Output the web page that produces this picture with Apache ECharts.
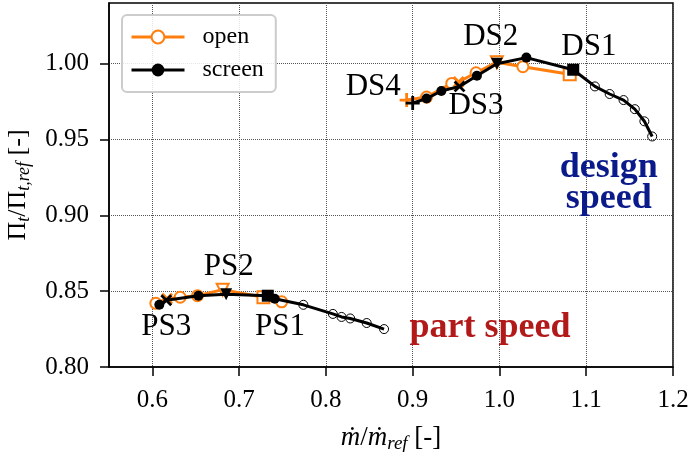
<!DOCTYPE html>
<html>
<head>
<meta charset="utf-8">
<script src="https://cdn.jsdelivr.net/npm/echarts@6/dist/echarts.min.js"></script>
<style>html,body{margin:0;padding:0;background:#fff}#c{width:691px;height:452px}</style>
</head>
<body>
<div id="c"></div>
<script>
// ---- data ----
const xTicks = [0.6, 0.7, 0.8, 0.9, 1.0, 1.1, 1.2];
const yTicks = [0.80, 0.85, 0.90, 0.95, 1.00];

const openDesignX = [0.893, 0.916, 0.945, 0.953, 0.973, 0.997, 1.027, 1.081];
const openDesignY = [0.976, 0.978, 0.987, 0.988, 0.994, 1.001, 0.998, 0.993];
const openDesignSym = ['plus', 'circle', 'circle', 'cross', 'circle', 'tri', 'circle', 'square'];

const openPartX = [0.604, 0.617, 0.632, 0.652, 0.681, 0.728, 0.749];
const openPartY = [0.842, 0.845, 0.846, 0.847, 0.851, 0.846, 0.843];
const openPartSym = ['circle', 'cross', 'circle', 'circle', 'tri', 'square', 'circle'];

const screenDesignX = [0.900, 0.916, 0.933, 0.954, 0.974, 0.997, 1.031, 1.085, 1.110, 1.127, 1.143, 1.156, 1.167, 1.176];
const screenDesignY = [0.974, 0.977, 0.982, 0.985, 0.992, 1.000, 1.004, 0.996, 0.985, 0.980, 0.976, 0.970, 0.962, 0.952];
const screenDesignSym = ['plus', 'circle', 'circle', 'cross', 'circle', 'tri', 'circle', 'square', 'ext', 'ext', 'ext', 'ext', 'ext', 'ext'];

const screenPartX = [0.608, 0.616, 0.653, 0.685, 0.733, 0.741, 0.774, 0.808, 0.818, 0.828, 0.847, 0.867];
const screenPartY = [0.841, 0.844, 0.847, 0.848, 0.847, 0.845, 0.841, 0.835, 0.833, 0.832, 0.829, 0.825];
const screenPartSym = ['circle', 'cross', 'circle', 'tri', 'square', 'circle', 'ext', 'ext', 'ext', 'ext', 'ext', 'ext'];

const pointLabels = ['DS1', 'DS2', 'DS3', 'DS4', 'PS1', 'PS2', 'PS3'];
const pointLabelX = [1.103, 0.990, 0.973, 0.8545, 0.747, 0.688, 0.616];
const pointLabelY = [1.0108, 1.018, 0.9725, 0.985, 0.8265, 0.866, 0.8265];

const speedLabels = ['design\nspeed', 'part speed'];
const speedLabelX = [1.126, 0.989];
const speedLabelY = [0.9213, 0.8256];

// ---- styling ----
const ORANGE = '#ff7f0e';
const FONT = 'Liberation Serif';
const PLUS = 'path://M-1,-5H1V-1H5V1H1V5H-1V1H-5V-1H-1Z';

function itemFor(kind, color, hollow) {
  const fill = hollow ? '#fff' : color;
  switch (kind) {
    case 'plus': return { symbol: PLUS, symbolSize: 14, itemStyle: { color: color, borderWidth: 0 } };
    case 'cross': return { symbol: PLUS, symbolSize: 14, symbolRotate: 45, itemStyle: { color: color, borderWidth: 0 } };
    case 'tri': return { symbol: 'triangle', symbolRotate: 180, symbolSize: 12, itemStyle: { color: fill, borderColor: color, borderWidth: hollow ? 2 : 0 } };
    case 'square': return { symbol: 'rect', symbolSize: 12, itemStyle: { color: fill, borderColor: color, borderWidth: hollow ? 2 : 0 } };
    case 'ext': return { symbol: 'circle', symbolSize: 9, itemStyle: { color: 'rgba(0,0,0,0)', borderColor: color, borderWidth: 1 } };
    default: return { symbol: 'circle', symbolSize: hollow ? 11 : 10, itemStyle: { color: fill, borderColor: color, borderWidth: hollow ? 2 : 0 } };
  }
}
function build(xs, ys, syms, color, hollow) {
  return xs.map((x, i) => Object.assign({ value: [x, ys[i]] }, itemFor(syms[i], color, hollow)));
}
function lineSeries(name, xs, ys, syms, color, hollow, z) {
  return {
    name: name, type: 'line', z: z,
    symbol: 'circle', symbolSize: hollow ? 11 : 10,
    itemStyle: { color: hollow ? '#fff' : color, borderColor: color, borderWidth: hollow ? 2 : 0 },
    lineStyle: { color: color, width: 3 },
    data: build(xs, ys, syms, color, hollow)
  };
}

const chart = echarts.init(document.getElementById('c'), null, { renderer: 'canvas' });
chart.setOption({
  animation: false,
  backgroundColor: '#fff',
  textStyle: { fontFamily: FONT, color: '#000' },
  grid: { left: 109, right: 18, top: 3, bottom: 85, outerBoundsMode: 'none', containLabel: false, show: true, borderColor: '#000', borderWidth: 1.5, backgroundColor: 'transparent' },
  legend: {
    orient: 'vertical', left: 122, top: 15,
    padding: [10, 12, 10, 8],
    itemWidth: 53, itemHeight: 16, itemGap: 9,
    backgroundColor: 'rgba(255,255,255,0.85)',
    borderColor: '#cccccc', borderWidth: 2, borderRadius: 5,
    lineStyle: { width: 3 },
    textStyle: { fontFamily: FONT, fontSize: 24, color: '#000', padding: [0, 0, 0, 13] },
    data: ['open', 'screen']
  },
  xAxis: {
    type: 'value', min: 0.55, max: 1.2,
    name: '{it|ṁ}/{it|ṁ}{sub|ref} [-]',
    nameLocation: 'middle', nameGap: 56,
    nameTextStyle: {
      fontFamily: FONT, fontSize: 27, color: '#000',
      rich: {
        it: { fontFamily: FONT, fontSize: 27, fontStyle: 'italic' },
        sub: { fontFamily: FONT, fontSize: 19, fontStyle: 'italic', padding: [11, 0, 0, 0] }
      }
    },
    axisLine: { show: true, lineStyle: { color: '#000', width: 1.5 } },
    axisTick: { show: true, inside: false, length: 9, customValues: xTicks, lineStyle: { color: '#000', width: 1.5 } },
    axisLabel: { customValues: xTicks, margin: 21, fontFamily: FONT, fontSize: 25, color: '#000', formatter: v => v.toFixed(1) },
    splitLine: { show: true, lineStyle: { color: '#555', width: 1, type: 'dotted' } }
  },
  yAxis: {
    type: 'value', min: 0.8, max: 1.04,
    name: 'Π{sub|t}/Π{sub|t,ref} [-]',
    nameLocation: 'middle', nameGap: 76, nameRotate: 90,
    nameTextStyle: {
      fontFamily: FONT, fontSize: 26, color: '#000',
      rich: {
        sub: { fontFamily: FONT, fontSize: 18, fontStyle: 'italic', padding: [11, 0, 0, 0] }
      }
    },
    axisLine: { show: true, lineStyle: { color: '#000', width: 1.5 } },
    axisTick: { show: true, inside: false, length: 9, customValues: yTicks, lineStyle: { color: '#000', width: 1.5 } },
    axisLabel: { customValues: yTicks, margin: 20, fontFamily: FONT, fontSize: 25, color: '#000', formatter: v => v.toFixed(2) },
    splitLine: { show: true, lineStyle: { color: '#555', width: 1, type: 'dotted' } }
  },
  series: [
    lineSeries('open', openDesignX, openDesignY, openDesignSym, ORANGE, true, 2),
    lineSeries('open', openPartX, openPartY, openPartSym, ORANGE, true, 2),
    lineSeries('screen', screenDesignX, screenDesignY, screenDesignSym, '#000', false, 3),
    lineSeries('screen', screenPartX, screenPartY, screenPartSym, '#000', false, 3),
    {
      type: 'scatter', z: 5, symbolSize: 0, silent: true,
      itemStyle: { opacity: 1 },
      label: { show: true, position: 'inside', formatter: p => p.name, fontFamily: FONT, fontSize: 31, color: '#000', opacity: 1 },
      data: pointLabels.map((n, i) => ({ name: n, value: [pointLabelX[i], pointLabelY[i]] }))
    },
    {
      type: 'scatter', z: 5, symbolSize: 0, silent: true,
      itemStyle: { opacity: 1 },
      label: { show: true, position: 'inside', formatter: p => p.name, fontFamily: FONT, fontSize: 36, fontWeight: 'bold', lineHeight: 31, align: 'center', opacity: 1 },
      data: speedLabels.map((n, i) => ({
        name: n, value: [speedLabelX[i], speedLabelY[i]],
        label: { color: i === 0 ? '#0a1a8a' : '#b21a1a' }
      }))
    }
  ]
});
</script>
</body>
</html>
